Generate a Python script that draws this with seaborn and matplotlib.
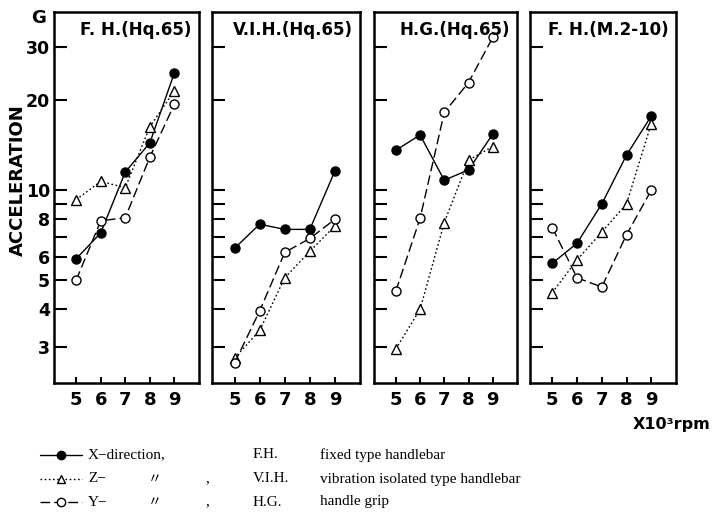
import matplotlib
matplotlib.use("Agg")
import matplotlib.pyplot as plt
from matplotlib.lines import Line2D
import seaborn as sns
import numpy as np

sns.set_theme(style="white")
plt.rcParams['font.family'] = ['DejaVu Sans']
plt.rcParams['xtick.direction'] = 'in'
plt.rcParams['ytick.direction'] = 'in'
plt.rcParams['text.color'] = 'black'
plt.rcParams['xtick.color'] = 'black'
plt.rcParams['ytick.color'] = 'black'
plt.rcParams['axes.labelcolor'] = 'black'
plt.rcParams['axes.edgecolor'] = 'black'

rpm = [5, 6, 7, 8, 9]
panel_titles = ["F. H.(Hq.65)", "V.I.H.(Hq.65)", "H.G.(Hq.65)", "F. H.(M.2-10)"]

# X-direction (filled circle, solid)
x_dir = [
    [5.9, 7.2, 11.5, 14.4, 24.7],
    [6.4, 7.7, 7.4, 7.4, 11.6],
    [13.6, 15.3, 10.8, 11.7, 15.4],
    [5.7, 6.65, 9.0, 13.1, 17.7],
]
# Z-direction (open triangle, dotted)
z_dir = [
    [9.3, 10.7, 10.2, 16.3, 21.5],
    [2.75, 3.4, 5.1, 6.25, 7.6],
    [2.95, 4.0, 7.8, 12.6, 14.0],
    [4.55, 5.85, 7.25, 9.0, 16.7],
]
# Y-direction (open circle, dashed)
y_dir = [
    [5.0, 7.9, 8.1, 12.9, 19.4],
    [2.65, 3.95, 6.2, 6.9, 8.0],
    [4.6, 8.05, 18.2, 22.9, 32.4],
    [7.5, 5.1, 4.75, 7.1, 10.0],
]

y_ticks = [3, 4, 5, 6, 7, 8, 9, 10, 20, 30]
y_tick_labels = ["3", "4", "5", "6", "", "8", "", "10", "20", "30"]
x_tick_labels = ["5", "6", "7", "8", "9"]

legend_dir = ["X\u2212direction,", "Z\u2212", "Y\u2212"]
legend_abbr = ["F.H.", "V.I.H.", "H.G."]
legend_desc = ["fixed type handlebar", "vibration isolated type handlebar", "handle grip"]

W, H = 717, 512
fig = plt.figure(figsize=(W / 100, H / 100), dpi=100)
fig.patch.set_facecolor("white")

# panel pixel boxes (left, right)
boxes = [(54, 199), (212, 360), (374, 517), (530, 676)]
top_px, bot_px = 12, 383

styles = [
    dict(marker="o", markerfacecolor="black", linestyle="-"),
    dict(marker="^", markerfacecolor="white", linestyle=(0, (1.2, 1.8))),
    dict(marker="o", markerfacecolor="white", linestyle=(0, (7, 3))),
]

for i, (l, r) in enumerate(boxes):
    ax = fig.add_axes([l / W, 1 - bot_px / H, (r - l) / W, (bot_px - top_px) / H])
    ax.set_facecolor("white")
    for vals, st in zip([x_dir[i], z_dir[i], y_dir[i]], styles):
        sns.lineplot(x=rpm, y=vals, ax=ax, color="black", linewidth=1.0,
                     marker=st["marker"], markersize=6.5,
                     markerfacecolor=st["markerfacecolor"], markeredgecolor="black",
                     markeredgewidth=1.0, linestyle=st["linestyle"], zorder=3)
    ax.set_yscale("log")
    ax.set_ylim(2.27, 39.4)
    ax.set_xlim(4.1, 10.0)
    ax.set_yticks(y_ticks)
    ax.minorticks_off()
    ax.set_xticks(rpm)
    ax.set_xticklabels(x_tick_labels, fontsize=13, fontweight="bold", color="black")
    if i == 0:
        ax.set_yticklabels(y_tick_labels, fontsize=12.5, fontweight="bold", color="black")
    else:
        ax.set_yticklabels([])
    ax.tick_params(axis="y", which="both", direction="in", length=9, width=1.5, pad=3,
                   left=True, right=False, color="black")
    ax.tick_params(axis="x", which="both", direction="in", length=4, width=1.5, pad=6,
                   bottom=True, top=False, color="black")
    for sp in ax.spines.values():
        sp.set_linewidth(1.8)
        sp.set_color("black")
        sp.set_visible(True)
    ax.set_xlabel("")
    ax.set_ylabel("")
    ax.grid(False)
    ax.text(0.95, 0.975, panel_titles[i], transform=ax.transAxes, ha="right", va="top",
            fontsize=12, fontweight="bold", color="black")

# axis annotations
fig.text(39 / W, 1 - 18 / H, "G", ha="center", va="center", fontsize=13, fontweight="bold")
fig.text(18 / W, 1 - 180 / H, "ACCELERATION", rotation=90, ha="center", va="center",
         fontsize=13, fontweight="bold")
fig.text(710 / W, 1 - 424 / H, "X10\u00b3rpm", ha="right", va="center", fontsize=11.5,
         fontweight="bold")

# legend
rows_y = [455, 479, 502]
serif = ["Liberation Serif", "Noto Sans CJK JP", "DejaVu Serif"]
for k, (st, yy) in enumerate(zip(styles, rows_y)):
    yf = 1 - yy / H
    fig.add_artist(Line2D([40 / W, 82 / W], [yf, yf], color="black", linewidth=1.0,
                          linestyle=st["linestyle"], transform=fig.transFigure))
    fig.add_artist(Line2D([61 / W], [yf], color="black", marker=st["marker"], markersize=6,
                          markerfacecolor=st["markerfacecolor"], markeredgecolor="black",
                          linestyle="none", transform=fig.transFigure))
    fig.text(88 / W, yf, legend_dir[k], ha="left", va="center", fontsize=11, family=serif)
    if k > 0:
        fig.text(148 / W, yf, "\u3003", ha="left", va="center", fontsize=10, family=serif)
        fig.text(205 / W, yf, ",", ha="left", va="center", fontsize=11, family=serif)
    fig.text(253 / W, yf, legend_abbr[k], ha="left", va="center", fontsize=11, family=serif)
    fig.text(320 / W, yf, legend_desc[k], ha="left", va="center", fontsize=11, family=serif)

fig.savefig("out.png", dpi=100, facecolor="white")
